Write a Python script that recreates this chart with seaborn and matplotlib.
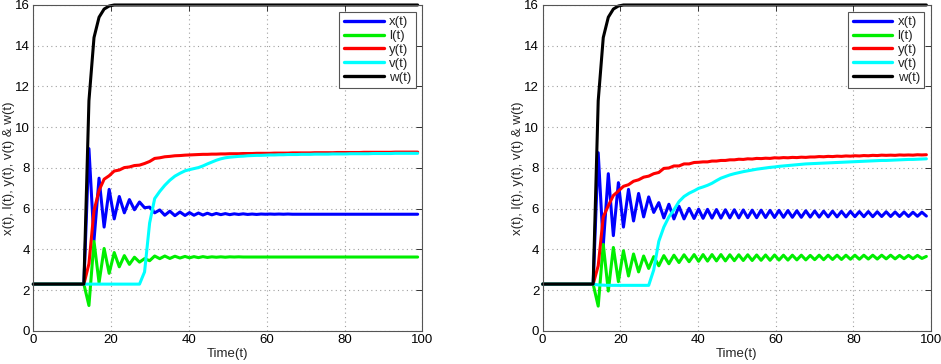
import matplotlib
matplotlib.use("Agg")
import matplotlib.pyplot as plt
import seaborn as sns
import pandas as pd

# ---------------- data ----------------
TIME = [0.0, 13.0, 14.3, 15.6, 16.9, 18.2, 19.5, 20.8, 22.1, 23.4, 24.7, 26.0, 27.3, 28.6, 29.9, 31.2, 32.5, 33.8, 35.1, 36.4, 37.7, 39.0,
        40.15, 41.3, 42.45, 43.6, 44.75, 45.9, 47.05, 48.2, 49.35, 50.5, 51.65, 52.8, 53.95, 55.1, 56.25, 57.4, 58.55, 59.7, 60.85, 62.0,
        63.15, 64.3, 65.45, 66.6, 67.75, 68.9,
        70.05, 71.2, 72.35, 73.5, 74.65, 75.8, 76.95, 78.1, 79.25, 80.4, 81.55, 82.7, 83.85, 85.0, 86.15, 87.3, 88.45, 89.6, 90.75, 91.9,
        93.05, 94.2, 95.35, 96.5, 97.65, 98.8]

SERIES = ["x(t)", "l(t)", "y(t)", "v(t)", "w(t)"]
COLORS = ["#0000ff", "#00ee00", "#ff0000", "#00ffff", "#000000"]

# left panel
X1 = [2.3, 2.3, 8.95, 4.45, 7.5, 5.1, 6.95, 5.5, 6.6, 5.8, 6.45, 5.95, 6.33, 6.05, 6.08, 5.8, 5.94, 5.68, 5.88, 5.66, 5.84, 5.67,
      5.81, 5.68, 5.79, 5.69, 5.78, 5.70, 5.77, 5.71, 5.76, 5.71, 5.75, 5.72, 5.75, 5.72, 5.74, 5.72, 5.74, 5.73, 5.74, 5.73,
      5.74, 5.73, 5.74, 5.73, 5.73, 5.73,
      5.73, 5.73, 5.73, 5.73, 5.73, 5.73, 5.73, 5.73, 5.73, 5.73, 5.73, 5.73, 5.73, 5.73, 5.73, 5.73, 5.73, 5.73, 5.73, 5.73,
      5.73, 5.73, 5.73, 5.73, 5.73, 5.73]
L1 = [2.3, 2.3, 1.25, 4.4, 2.37, 4.05, 2.83, 3.85, 3.15, 3.7, 3.27, 3.62, 3.38, 3.55, 3.45, 3.68, 3.55, 3.68, 3.56, 3.67, 3.58, 3.66,
      3.59, 3.65, 3.60, 3.65, 3.61, 3.64, 3.62, 3.64, 3.62, 3.64, 3.63, 3.64, 3.63, 3.63, 3.63, 3.63, 3.63, 3.63, 3.63, 3.63,
      3.63, 3.63, 3.63, 3.63, 3.63, 3.63,
      3.63, 3.63, 3.63, 3.63, 3.63, 3.63, 3.63, 3.63, 3.63, 3.63, 3.63, 3.63, 3.63, 3.63, 3.63, 3.63, 3.63, 3.63, 3.63, 3.63,
      3.63, 3.63, 3.63, 3.63, 3.63, 3.63]
Y1 = [2.3, 2.3, 3.3, 5.9, 6.9, 7.45, 7.62, 7.85, 7.9, 8.02, 8.05, 8.12, 8.14, 8.22, 8.32, 8.47, 8.5, 8.55, 8.57, 8.6, 8.61, 8.63,
      8.64, 8.65, 8.66, 8.67, 8.67, 8.68, 8.68, 8.69, 8.69, 8.7, 8.7, 8.7, 8.71, 8.71, 8.71, 8.72, 8.72, 8.72, 8.72, 8.73,
      8.73, 8.73, 8.73, 8.74, 8.74, 8.74,
      8.74, 8.74, 8.75, 8.75, 8.75, 8.75, 8.75, 8.76, 8.76, 8.76, 8.76, 8.76, 8.76, 8.77, 8.77, 8.77, 8.77, 8.77, 8.77, 8.77,
      8.78, 8.78, 8.78, 8.78, 8.78, 8.78]
V1 = [2.3, 2.3, 2.3, 2.3, 2.3, 2.3, 2.3, 2.3, 2.3, 2.3, 2.3, 2.3, 2.3, 2.9, 5.3, 6.5, 6.85, 7.15, 7.4, 7.6, 7.74, 7.86,
      7.92, 7.97, 8.02, 8.1, 8.2, 8.29, 8.38, 8.45, 8.5, 8.53, 8.55, 8.57, 8.58, 8.6, 8.61, 8.62, 8.62, 8.63, 8.64, 8.64,
      8.65, 8.65, 8.66, 8.66, 8.66, 8.67,
      8.67, 8.67, 8.68, 8.68, 8.68, 8.68, 8.69, 8.69, 8.69, 8.69, 8.7, 8.7, 8.7, 8.7, 8.7, 8.71, 8.71, 8.71, 8.71, 8.71,
      8.72, 8.72, 8.72, 8.72, 8.72, 8.72]
W1 = [2.3, 2.3, 11.3, 14.4, 15.4, 15.8, 15.95, 16, 16, 16, 16, 16, 16, 16, 16, 16, 16, 16, 16, 16, 16, 16,
      16, 16, 16, 16, 16, 16, 16, 16, 16, 16, 16, 16, 16, 16, 16, 16, 16, 16, 16, 16, 16, 16, 16, 16, 16, 16,
      16, 16, 16, 16, 16, 16, 16, 16, 16, 16, 16, 16, 16, 16, 16, 16, 16, 16, 16, 16, 16, 16, 16, 16, 16, 16]

# right panel
X2 = [2.3, 2.3, 8.75, 4.2, 7.72, 4.68, 7.28, 5.1, 6.95, 5.4, 6.75, 5.6, 6.58, 5.82, 6.3, 5.55, 6.22, 5.5, 6.12, 5.5, 6.02, 5.52,
      5.98, 5.53, 5.97, 5.54, 5.96, 5.54, 5.95, 5.55, 5.95, 5.55, 5.94, 5.56, 5.93, 5.56, 5.93, 5.57, 5.92, 5.57, 5.92, 5.58,
      5.91, 5.58, 5.9, 5.58, 5.9, 5.59,
      5.89, 5.59, 5.88, 5.6, 5.88, 5.6, 5.87, 5.6, 5.87, 5.61, 5.86, 5.61, 5.86, 5.61, 5.85, 5.62, 5.85, 5.62, 5.84, 5.62,
      5.84, 5.62, 5.83, 5.63, 5.83, 5.64]
L2 = [2.3, 2.3, 1.22, 4.25, 1.96, 4.1, 2.42, 3.94, 2.7, 3.78, 2.9, 3.68, 3.07, 3.65, 3.2, 3.7, 3.3, 3.72, 3.36, 3.74, 3.4, 3.75,
      3.42, 3.75, 3.43, 3.75, 3.44, 3.75, 3.44, 3.74, 3.45, 3.74, 3.46, 3.74, 3.46, 3.73, 3.47, 3.73, 3.47, 3.73, 3.48, 3.72,
      3.48, 3.72, 3.49, 3.72, 3.49, 3.71,
      3.5, 3.72, 3.5, 3.72, 3.51, 3.72, 3.51, 3.72, 3.52, 3.72, 3.52, 3.72, 3.53, 3.72, 3.53, 3.72, 3.54, 3.72, 3.54, 3.71,
      3.55, 3.71, 3.55, 3.71, 3.56, 3.66]
Y2 = [2.3, 2.3, 3.2, 5.6, 6.15, 6.65, 6.87, 7.1, 7.18, 7.35, 7.42, 7.55, 7.6, 7.72, 7.78, 7.98, 8.0, 8.1, 8.1, 8.2, 8.2, 8.27,
      8.28, 8.3, 8.3, 8.34, 8.34, 8.37, 8.37, 8.4, 8.4, 8.43, 8.42, 8.45, 8.44, 8.47, 8.46, 8.48, 8.47, 8.5, 8.49, 8.51,
      8.5, 8.52, 8.51, 8.53, 8.52, 8.54,
      8.54, 8.56, 8.55, 8.57, 8.56, 8.58, 8.57, 8.59, 8.58, 8.6, 8.59, 8.61, 8.6, 8.62, 8.61, 8.63, 8.62, 8.63, 8.62, 8.64,
      8.63, 8.64, 8.63, 8.65, 8.64, 8.65]
V2 = [2.3, 2.3, 2.26, 2.25, 2.24, 2.24, 2.24, 2.24, 2.24, 2.24, 2.24, 2.24, 2.24, 3.0, 4.4, 5.1, 5.6, 5.95, 6.35, 6.6, 6.76, 6.88,
      7.0, 7.07, 7.15, 7.25, 7.38, 7.5, 7.58, 7.66, 7.72, 7.77, 7.82, 7.86, 7.9, 7.94, 7.97, 8.0, 8.03, 8.05, 8.08, 8.1,
      8.12, 8.14, 8.16, 8.18, 8.2, 8.21,
      8.22, 8.23, 8.24, 8.25, 8.26, 8.27, 8.28, 8.29, 8.3, 8.31, 8.32, 8.33, 8.34, 8.35, 8.36, 8.37, 8.37, 8.38, 8.39, 8.4,
      8.41, 8.42, 8.42, 8.43, 8.44, 8.45]
W2 = [2.3, 2.3, 11.3, 14.4, 15.4, 15.8, 15.95, 16, 16, 16, 16, 16, 16, 16, 16, 16, 16, 16, 16, 16, 16, 16,
      16, 16, 16, 16, 16, 16, 16, 16, 16, 16, 16, 16, 16, 16, 16, 16, 16, 16, 16, 16, 16, 16, 16, 16, 16, 16,
      16, 16, 16, 16, 16, 16, 16, 16, 16, 16, 16, 16, 16, 16, 16, 16, 16, 16, 16, 16, 16, 16, 16, 16, 16, 16]

X_TICKS = [0, 20, 40, 60, 80, 100]
Y_TICKS = [0, 2, 4, 6, 8, 10, 12, 14, 16]
X_LABEL = "Time(t)"
Y_LABEL = "x(t), l(t), y(t), v(t) & w(t)"

# ---------------- style ----------------
sns.set_style("white")
plt.rcParams["font.family"] = ["Liberation Sans", "DejaVu Sans"]
plt.rcParams["font.size"] = 9.5
FS = 9.5


def long_frame(cols):
    rows = []
    for name, vals in zip(SERIES, cols):
        for t, v in zip(TIME, vals):
            rows.append({"t": t, "value": v, "series": name})
    return pd.DataFrame(rows)


fig = plt.figure(figsize=(9.41, 3.64), dpi=100)
axes = [fig.add_axes([0.0354, 0.0907, 0.4134, 0.8956]),
        fig.add_axes([0.5767, 0.0907, 0.4127, 0.8956])]
panels = [[X1, L1, Y1, V1, W1], [X2, L2, Y2, V2, W2]]

for ax, cols in zip(axes, panels):
    df = long_frame(cols)
    sns.lineplot(data=df, x="t", y="value", hue="series", hue_order=SERIES,
                 palette=COLORS, linewidth=2.2, estimator=None, sort=False, ax=ax)
    for ln in ax.lines:
        ln.set_clip_on(False)
    ax.set_xlim(0, 100)
    ax.set_ylim(0, 16)
    ax.set_xticks(X_TICKS)
    ax.set_yticks(Y_TICKS)
    ax.grid(True, linestyle=(0, (1, 3)), color="#a0a0a0", linewidth=0.8)
    ax.tick_params(direction="in", length=4, width=0.7, top=True, right=True,
                   labelsize=FS, colors="#333333", labelcolor="black", pad=2.5)
    for s in ax.spines.values():
        s.set_color("#555555")
        s.set_linewidth(0.8)
    ax.set_xlabel(X_LABEL, fontsize=FS, labelpad=1)
    ax.set_ylabel(Y_LABEL, fontsize=FS, labelpad=0)
    h, l = ax.get_legend_handles_labels()
    leg = ax.legend(h, l, loc="upper right", fontsize=FS, handlelength=3.0,
                    labelspacing=0.12, handletextpad=0.4, borderpad=0.35,
                    fancybox=False, framealpha=1, edgecolor="#555555",
                    borderaxespad=0.5)
    leg.get_frame().set_linewidth(0.8)
    for lh in leg.get_lines():
        lh.set_linewidth(2.4)

fig.savefig("out.png", dpi=100)
